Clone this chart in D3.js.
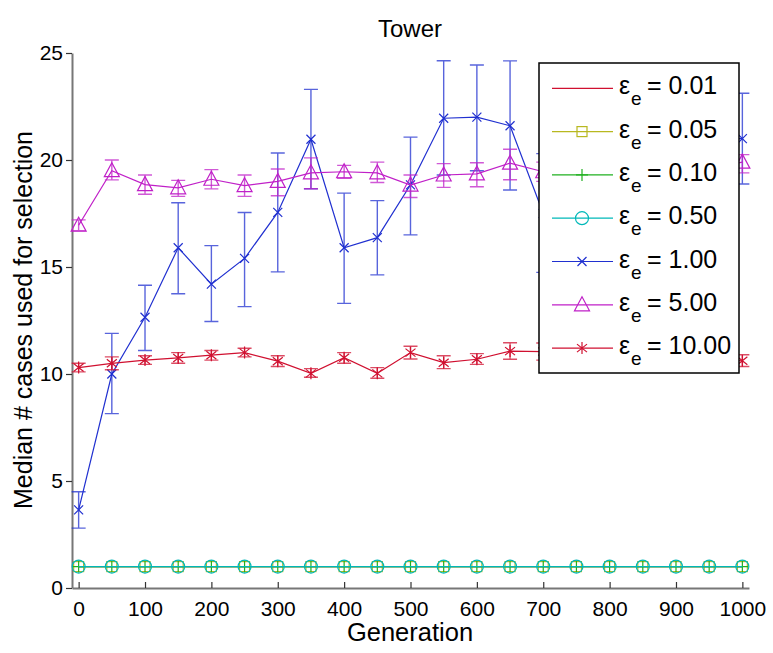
<!DOCTYPE html>
<html lang="en">
<head>
   <meta charset="UTF-8">
   <title>Tower</title>
   <style>
      body { margin: 0; background: white; }
      svg text { font-family: "Liberation Sans", Arial, Helvetica, sans-serif; }
      .tick text { font-size: 21px; fill: black; }
      .tick line { stroke: #333; stroke-width: 1.2; }
      .domain { stroke: #777; stroke-width: 2; }
   </style>
   <script src="https://cdn.jsdelivr.net/npm/d3@7"></script>
</head>
<body>
<div class="chart"></div>
<script>
   // generations on the x axis
   const generations = [0, 50, 100, 150, 200, 250, 300, 350, 400, 450, 500, 550, 600, 650, 700, 750, 800, 850, 900, 950, 1000]
   const xTicks = [0, 100, 200, 300, 400, 500, 600, 700, 800, 900, 1000]
   const yTicks = [0, 5, 10, 15, 20, 25]

   // eps 0.01 .. 0.50 all sit at a median of 1
   const medianLow = [1, 1, 1, 1, 1, 1, 1, 1, 1, 1, 1, 1, 1, 1, 1, 1, 1, 1, 1, 1, 1]

   // eps 1.00
   const median100 = [3.65, 10.0, 12.65, 15.9, 14.2, 15.4, 17.55, 20.97, 15.9, 16.37, 18.84, 21.95, 22.0, 21.6, 17.5, 19.0, 20.0, 19.5, 20.5, 21.0, 21.0]
   const lower100 = [2.8, 8.15, 11.1, 13.75, 12.45, 13.15, 14.77, 18.66, 13.3, 14.63, 16.5, 19.3, 19.5, 18.6, 14.75, 16.8, 17.8, 17.3, 18.3, 18.8, 18.88]
   const upper100 = [4.5, 11.9, 14.15, 18.0, 16.0, 17.55, 20.33, 23.3, 18.45, 18.1, 21.07, 24.64, 24.44, 24.63, 20.3, 21.3, 22.3, 21.8, 22.8, 23.2, 23.12]

   // eps 5.00
   const median500 = [16.95, 19.5, 18.85, 18.7, 19.1, 18.8, 19.0, 19.4, 19.45, 19.4, 18.83, 19.3, 19.35, 19.85, 19.45, 19.5, 19.6, 19.5, 19.7, 19.6, 19.9]
   const lower500 = [16.7, 19.07, 18.4, 18.3, 18.65, 18.3, 18.33, 18.66, 19.15, 18.95, 18.25, 18.72, 18.75, 19.08, 19.0, 19.1, 19.2, 19.1, 19.3, 19.2, 19.4]
   const upper500 = [17.2, 20.0, 19.3, 19.05, 19.55, 19.3, 19.58, 20.1, 19.75, 19.9, 19.3, 19.83, 19.87, 20.5, 19.9, 19.9, 20.0, 19.9, 20.1, 20.0, 20.25]

   // eps 10.00
   const median1000 = [10.3, 10.5, 10.65, 10.75, 10.88, 11.0, 10.6, 10.03, 10.76, 10.03, 11.0, 10.53, 10.69, 11.07, 11.05, 10.8, 10.9, 10.7, 10.8, 10.7, 10.62]
   const lower1000 = [10.1, 10.2, 10.45, 10.5, 10.65, 10.8, 10.35, 9.85, 10.5, 9.8, 10.7, 10.25, 10.45, 10.69, 10.65, 10.55, 10.65, 10.45, 10.55, 10.45, 10.35]
   const upper1000 = [10.5, 10.8, 10.85, 11.0, 11.1, 11.2, 10.85, 10.25, 11.0, 10.3, 11.3, 10.85, 10.95, 11.46, 11.45, 11.05, 11.15, 10.95, 11.05, 10.95, 10.9]

   const legendLabels = ['0.01', '0.05', '0.10', '0.50', '1.00', '5.00', '10.00']

   const series = [
      { label: legendLabels[0], values: medianLow, color: '#d01030', marker: 'none' },
      { label: legendLabels[1], values: medianLow, color: '#b8b820', marker: 'square' },
      { label: legendLabels[2], values: medianLow, color: '#20b020', marker: 'plus' },
      { label: legendLabels[3], values: medianLow, color: '#00b8b8', marker: 'circle' },
      { label: legendLabels[4], values: median100, lo: lower100, hi: upper100, color: '#2030d0', marker: 'x' },
      { label: legendLabels[5], values: median500, lo: lower500, hi: upper500, color: '#c020c8', marker: 'triangle' },
      { label: legendLabels[6], values: median1000, lo: lower1000, hi: upper1000, color: '#d01030', marker: 'star' },
   ]

   const W = 773, H = 653
   const svg = d3.select('.chart').append('svg')
      .attr('width', W)
      .attr('height', H)

   const x = d3.scaleLinear().domain([-10, 1010]).range([72, 749])
   const y = d3.scaleLinear().domain([0, 25]).range([588, 53])

   // axes
   svg.append('g')
      .attr('transform', 'translate(0, 588)')
      .call(d3.axisBottom(x).tickValues(xTicks).tickFormat(d3.format('d'))
         .tickSizeInner(-6).tickSizeOuter(0).tickPadding(13))
   svg.append('g')
      .attr('transform', 'translate(72, 0)')
      .call(d3.axisLeft(y).tickValues(yTicks).tickSizeInner(6).tickSizeOuter(0).tickPadding(3))

   // marker shapes, drawn around 0,0
   function drawMarker(g, type, color) {
      const s = { fill: 'none', stroke: color, 'stroke-width': 1.2 }
      const add = (tag, attrs) => {
         const el = g.append(tag)
         Object.entries({ ...s, ...attrs }).forEach(([k, v]) => el.attr(k, v))
      }
      if (type === 'square') add('rect', { x: -5, y: -5, width: 10, height: 10 })
      if (type === 'plus') add('path', { d: 'M-6,0H6M0,-6V6' })
      if (type === 'circle') add('circle', { r: 6.5 })
      if (type === 'x') add('path', { d: 'M-4.5,-4.5L4.5,4.5M-4.5,4.5L4.5,-4.5' })
      if (type === 'triangle') add('path', { d: 'M0,-8L7.5,6H-7.5Z' })
      if (type === 'star') add('path', { d: 'M0,-6V6M-5,-4L5,4M-5,4L5,-4' })
   }

   const line = d3.line()
      .x((d, i) => x(generations[i]))
      .y(d => y(d))

   series.forEach(sr => {
      const g = svg.append('g')

      // error bars
      if (sr.lo) {
         g.selectAll('.eb').data(generations).enter().append('path')
            .attr('class', 'eb')
            .attr('d', (gen, i) => {
               const cx = x(gen), yl = y(sr.lo[i]), yh = y(sr.hi[i])
               return `M${cx},${yl}V${yh}M${cx - 7},${yh}H${cx + 7}M${cx - 7},${yl}H${cx + 7}`
            })
            .attr('fill', 'none')
            .attr('stroke', sr.color)
            .attr('stroke-opacity', 0.75)
            .attr('stroke-width', 1.4)
      }

      g.append('path')
         .attr('d', line(sr.values))
         .attr('fill', 'none')
         .attr('stroke', sr.color)
         .attr('stroke-width', 1.2)

      sr.values.forEach((v, i) => {
         const m = g.append('g').attr('transform', `translate(${x(generations[i])}, ${y(v)})`)
         drawMarker(m, sr.marker, sr.color)
      })
   })

   // legend
   const legend = svg.append('g')
   legend.append('rect')
      .attr('x', 539).attr('y', 63)
      .attr('width', 200).attr('height', 310)
      .attr('fill', 'white')
      .attr('stroke', 'black')
      .attr('stroke-width', 1.5)

   series.forEach((sr, i) => {
      const ry = 88.3 + i * 43.3
      const row = legend.append('g')
      row.append('line')
         .attr('x1', 552).attr('x2', 613)
         .attr('y1', ry).attr('y2', ry)
         .attr('stroke', sr.color)
         .attr('stroke-width', 1.2)
      drawMarker(row.append('g').attr('transform', `translate(582, ${ry})`), sr.marker, sr.color)
      row.append('text').attr('x', 619).attr('y', ry + 6).attr('font-size', 25).text('ε')
      row.append('text').attr('x', 631).attr('y', ry + 17).attr('font-size', 19).text('e')
      row.append('text').attr('x', 647).attr('y', ry + 6).attr('font-size', 25).text(`= ${sr.label}`)
   })

   // titles
   svg.append('text')
      .attr('x', 410).attr('y', 37)
      .attr('text-anchor', 'middle')
      .attr('font-size', 24)
      .text('Tower')

   svg.append('text')
      .attr('x', 410).attr('y', 641)
      .attr('text-anchor', 'middle')
      .attr('font-size', 25.5)
      .text('Generation')

   svg.append('text')
      .attr('transform', 'translate(32, 320) rotate(-90)')
      .attr('text-anchor', 'middle')
      .attr('font-size', 25)
      .text('Median # cases used for selection')
</script>
</body>
</html>
